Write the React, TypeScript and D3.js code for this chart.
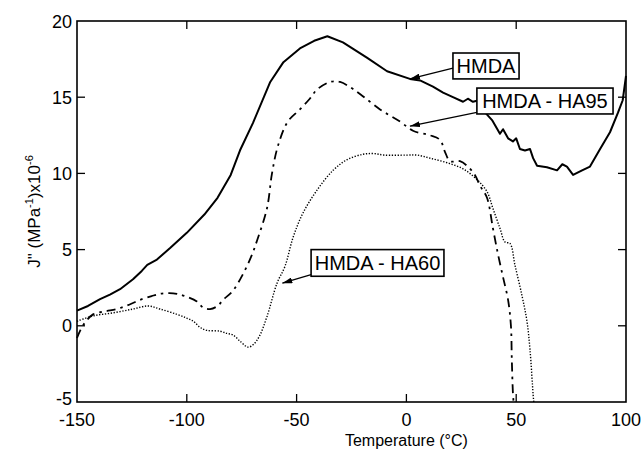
import React from "react";
import * as d3 from "d3";

const xTicks = [-150, -100, -50, 0, 50, 100];
const yTicks = [-5, 0, 5, 10, 15, 20];

const hmdaT = [-150, -145, -139.5, -135, -130.4, -124.5, -120.5, -118, -113.6, -107.6, -100, -92, -86, -80, -75.8, -69.9, -62, -56, -48.5, -42, -36, -28.9, -18, -8.8, 1.6, 6.2, 12.1, 16.7, 21.2, 25.8, 28, 30.3, 33, 35.8, 39, 42.6, 44, 46.3, 48.5, 50, 51.7, 54, 56.3, 57.7, 59.5, 64, 68.6, 71, 73.1, 75.9, 80, 83.6, 88.2, 92.7, 96.4, 98.5, 100];
const hmdaV = [1.0, 1.3, 1.75, 2.05, 2.4, 3.05, 3.6, 4.0, 4.35, 5.1, 6.1, 7.3, 8.4, 9.9, 11.5, 13.3, 16.0, 17.3, 18.2, 18.7, 19.0, 18.6, 17.6, 16.7, 16.2, 16.1, 15.7, 15.3, 15.0, 14.7, 14.9, 14.7, 14.8, 14.0, 13.5, 12.6, 12.9, 12.3, 12.1, 12.3, 11.6, 11.5, 11.6, 11.0, 10.5, 10.4, 10.2, 10.6, 10.45, 9.9, 10.2, 10.45, 11.6, 12.7, 14.0, 14.8, 16.4];

const ha95T = [-150, -148.5, -146.4, -142.7, -137, -131.8, -126, -121.3, -116, -112.2, -108, -104.5, -100, -95.4, -92.6, -89.4, -86, -83.5, -79, -74.4, -70.5, -68, -63.5, -61.2, -58.5, -54, -48.5, -44, -40.7, -34.8, -30.2, -25, -21, -12, -2.9, 3, 10.7, 15.3, 17.6, 19.9, 24.4, 27.6, 31.2, 33.5, 36.7, 39.4, 41.7, 44, 46.3, 47.6, 48, 48.5, 48.8];
const ha95V = [-0.8, -0.3, 0.2, 0.75, 0.95, 1.1, 1.4, 1.7, 1.95, 2.1, 2.15, 2.1, 1.9, 1.6, 1.2, 1.1, 1.3, 1.7, 2.3, 3.4, 4.6, 5.6, 7.7, 10.0, 11.8, 13.4, 14.2, 14.9, 15.5, 16.0, 16.0, 15.6, 15.2, 14.2, 13.4, 12.8, 12.5, 12.2, 11.4, 10.8, 10.8, 10.5, 9.9, 9.2, 8.4, 6.4, 4.7, 3.2, 1.7, 0, -2.2, -4.4, -5];

const ha60T = [-150, -142.7, -133.6, -124.5, -117.7, -112.2, -104.5, -100, -97, -94, -90.8, -84.9, -81.7, -79, -75.8, -72.1, -69.5, -67, -63.5, -58.9, -55.3, -51.6, -47.1, -40.7, -33.4, -27, -20, -15, -10, 0, 5, 10.7, 18.5, 25.8, 32.1, 36.7, 39.4, 42.6, 44.9, 47.2, 49.4, 52.6, 54.9, 56.3, 57.7, 58];
const ha60V = [0.3, 0.65, 0.85, 1.1, 1.3, 1.1, 0.75, 0.5, 0.3, -0.1, -0.3, -0.35, -0.5, -0.6, -1.0, -1.4, -1.2, -0.7, 0.6, 2.8, 3.9, 5.8, 7.4, 8.9, 10.2, 10.9, 11.25, 11.3, 11.2, 11.2, 11.2, 11.0, 10.7, 10.3, 9.6, 8.8, 7.7, 6.4, 5.5, 5.4, 4.0, 2.0, 0.3, -1.6, -4.5, -5];

// annotation labels: text, box (T range, V top/bottom), arrow start and tip (T,V)
const labelTexts = ["HMDA", "HMDA - HA95", "HMDA - HA60"];
const labelBoxT = [[21.2, 51.3], [32.1, 94.1], [-43.4, 17.1]];
const labelBoxV = [[17.9, 16.2], [15.6, 13.9], [5.0, 3.25]];
const arrowFrom = [[21.2, 16.9], [32.1, 14.0], [-43.4, 3.35]];
const arrowTip = [[1.6, 16.2], [1.6, 13.1], [-56.5, 2.8]];

const W = 643, H = 450;
const L = 77, R = 626, T = 21, B = 402;
const font = "Liberation Sans, Arial, Helvetica, sans-serif";

export default function App() {
  const x = d3.scaleLinear().domain([-150, 100]).range([L, R]);
  const y = d3.scaleLinear().domain([-5, 20]).range([B, T]);
  const line = d3.line<[number, number]>().x(d => x(d[0])).y(d => y(d[1])).curve(d3.curveCatmullRom.alpha(0.5));
  const lineLin = d3.line<[number, number]>().x(d => x(d[0])).y(d => y(d[1]));
  const hmda = hmdaT.map((t, i) => [t, hmdaV[i]] as [number, number]);
  const ha95 = ha95T.map((t, i) => [t, ha95V[i]] as [number, number]);
  const ha60 = ha60T.map((t, i) => [t, ha60V[i]] as [number, number]);
  const tl = 8;
  return (
    <svg width={W} height={H} style={{ position: "absolute", left: 0, top: 0, background: "#fff" }} fontFamily={font}>
      <defs>
        <marker id="arr" viewBox="0 0 10 6" refX="10" refY="3" markerWidth="10" markerHeight="6" markerUnits="userSpaceOnUse" orient="auto">
          <path d="M0,0 L10,3 L0,6 Z" fill="#000" />
        </marker>
      </defs>
      <rect x={L} y={T} width={R - L} height={B - T} fill="none" stroke="#000" strokeWidth={1.6} />
      {xTicks.slice(1, -1).map(t => (
        <g key={"xt" + t}>
          <line x1={x(t)} x2={x(t)} y1={B} y2={B - tl} stroke="#000" strokeWidth={1.3} />
          <line x1={x(t)} x2={x(t)} y1={T} y2={T + tl} stroke="#000" strokeWidth={1.3} />
        </g>
      ))}
      {yTicks.slice(1, -1).map(v => (
        <g key={"yt" + v}>
          <line x1={L} x2={L + tl} y1={y(v)} y2={y(v)} stroke="#000" strokeWidth={1.3} />
          <line x1={R} x2={R - tl} y1={y(v)} y2={y(v)} stroke="#000" strokeWidth={1.3} />
        </g>
      ))}
      {xTicks.map(t => (
        <text key={"xl" + t} x={x(t)} y={B + 24} textAnchor="middle" fontSize={18}>{t}</text>
      ))}
      {yTicks.map(v => (
        <text key={"yl" + v} x={L - 5} y={y(v) + (v === -5 ? 3 : 6.5)} textAnchor="end" fontSize={18}>{v}</text>
      ))}
      <text x={x(0)} y={H - 4} textAnchor="middle" fontSize={16}>Temperature (°C)</text>
      <text transform={`translate(40, ${y(7.5)}) rotate(-90)`} textAnchor="middle" fontSize={17}>
        J" (MPa<tspan dy={-7} fontSize={11}>-1</tspan><tspan dy={7}>)x10</tspan><tspan dy={-7} fontSize={11}>-6</tspan>
      </text>
      <path d={line(ha60) || ""} fill="none" stroke="#000" strokeWidth={1.4} strokeDasharray="1.3,1.6" />
      <path d={line(ha95) || ""} fill="none" stroke="#000" strokeWidth={1.8} strokeDasharray="9,5,2.5,5" />
      <path d={lineLin(hmda) || ""} fill="none" stroke="#000" strokeWidth={2} strokeLinejoin="round" />
      {labelTexts.map((s, i) => {
        const x0 = x(labelBoxT[i][0]), x1 = x(labelBoxT[i][1]);
        const y0 = y(labelBoxV[i][0]), y1 = y(labelBoxV[i][1]);
        return (
          <g key={"lab" + i}>
            <line x1={x(arrowFrom[i][0])} y1={y(arrowFrom[i][1])} x2={x(arrowTip[i][0])} y2={y(arrowTip[i][1])} stroke="#000" strokeWidth={1.3} markerEnd="url(#arr)" />
            <rect x={x0} y={y0} width={x1 - x0} height={y1 - y0} fill="#fff" stroke="#000" strokeWidth={1.6} />
            <text x={(x0 + x1) / 2} y={(y0 + y1) / 2 + 7} textAnchor="middle" fontSize={20}>{s}</text>
          </g>
        );
      })}
    </svg>
  );
}
